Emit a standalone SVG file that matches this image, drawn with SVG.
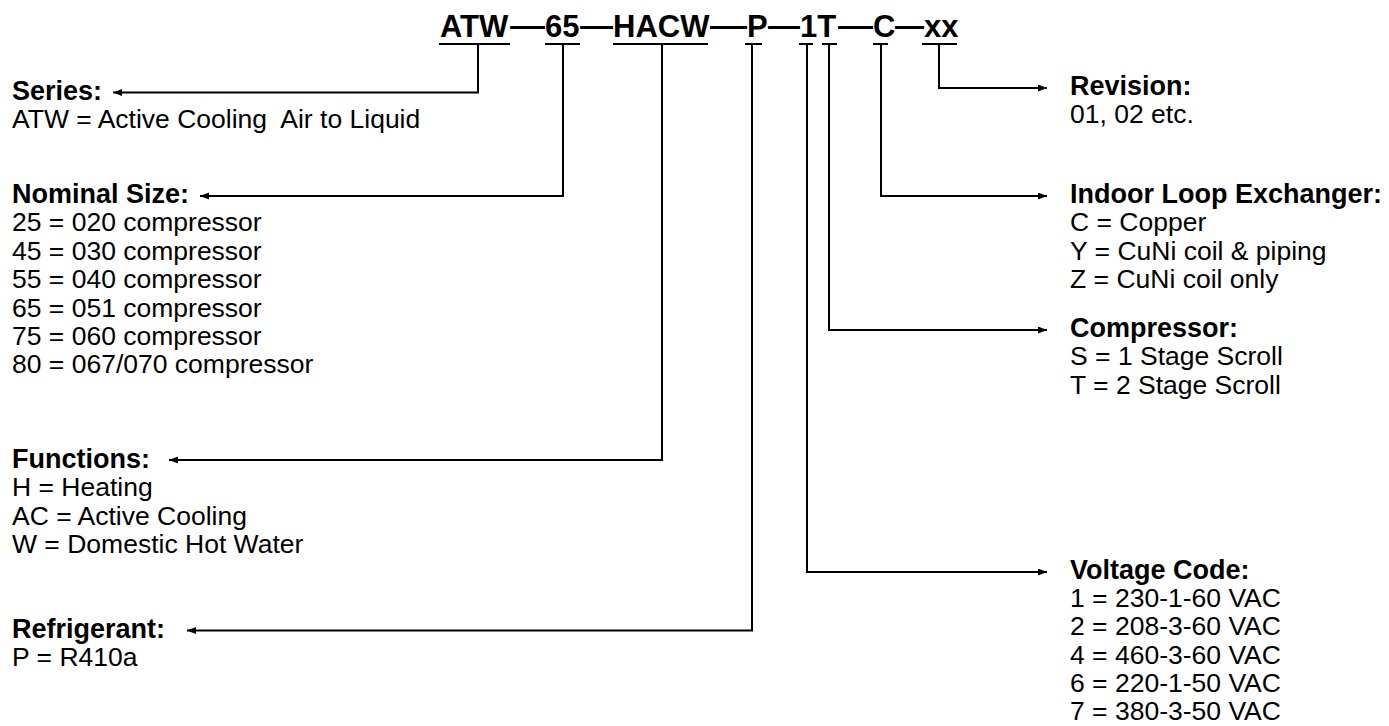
<svg xmlns="http://www.w3.org/2000/svg" width="1389" height="726" viewBox="0 0 1389 726">
<defs>
<style>
text{font-family:"Liberation Sans",Arial,sans-serif;fill:#000}
.t{font-size:31px;font-weight:bold}
.h{font-size:27px;font-weight:bold}
.b{font-size:26.5px}
.c{fill:none;stroke:#000;stroke-width:2}
.u{stroke:#000;stroke-width:2}
</style>
<marker id="ah" markerUnits="userSpaceOnUse" markerWidth="10" markerHeight="8" refX="9" refY="3.5" orient="auto">
<path d="M0,0 L9,3.5 L0,7 z" fill="#000"/>
</marker>
</defs>
<rect width="1389" height="726" fill="#fff"/>
<g id="title">
<text class="t" y="37"><tspan x="440">ATW</tspan><tspan x="545">65</tspan><tspan x="613">HACW</tspan><tspan x="747">P</tspan><tspan x="800">1T</tspan><tspan x="873">C</tspan><tspan x="924">xx</tspan></text>
<text class="t" y="35.5" x="510" textLength="35" lengthAdjust="spacingAndGlyphs">—</text>
<text class="t" y="35.5" x="580" textLength="33" lengthAdjust="spacingAndGlyphs">—</text>
<text class="t" y="35.5" x="710" textLength="37" lengthAdjust="spacingAndGlyphs">—</text>
<text class="t" y="35.5" x="768" textLength="32" lengthAdjust="spacingAndGlyphs">—</text>
<text class="t" y="35.5" x="838" textLength="35" lengthAdjust="spacingAndGlyphs">—</text>
<text class="t" y="35.5" x="895" textLength="29" lengthAdjust="spacingAndGlyphs">—</text>
<line class="u" x1="439" y1="44" x2="510" y2="44"/>
<line class="u" x1="545" y1="44" x2="580" y2="44"/>
<line class="u" x1="613" y1="44" x2="708" y2="44"/>
<line class="u" x1="745" y1="44" x2="762" y2="44"/>
<line class="u" x1="799" y1="44" x2="813" y2="44"/>
<line class="u" x1="822" y1="44" x2="837" y2="44"/>
<line class="u" x1="873" y1="44" x2="888" y2="44"/>
<line class="u" x1="922" y1="44" x2="957" y2="44"/>
</g>
<g id="connectors">
<polyline class="c" points="478,44 478,92.5 113,92.5" marker-end="url(#ah)"/>
<polyline class="c" points="563,44 563,196 200,196" marker-end="url(#ah)"/>
<polyline class="c" points="662,44 662,460 169,460" marker-end="url(#ah)"/>
<polyline class="c" points="752,44 752,630.5 187,630.5" marker-end="url(#ah)"/>
<polyline class="c" points="939,44 939,88 1047,88" marker-end="url(#ah)"/>
<polyline class="c" points="881,44 881,196 1047,196" marker-end="url(#ah)"/>
<polyline class="c" points="829,44 829,330 1047,330" marker-end="url(#ah)"/>
<polyline class="c" points="807,44 807,572 1047,572" marker-end="url(#ah)"/>
</g>
<g id="series">
<text class="h" x="12" y="99.5">Series:</text>
<text class="b" x="12" y="128" xml:space="preserve">ATW = Active Cooling  Air to Liquid</text>
</g>
<g id="nominal-size">
<text class="h" x="12" y="203">Nominal Size:</text>
<text class="b" x="12" y="231.4">25 = 020 compressor</text>
<text class="b" x="12" y="259.8">45 = 030 compressor</text>
<text class="b" x="12" y="288.2">55 = 040 compressor</text>
<text class="b" x="12" y="316.6">65 = 051 compressor</text>
<text class="b" x="12" y="345">75 = 060 compressor</text>
<text class="b" x="12" y="373.4">80 = 067/070 compressor</text>
</g>
<g id="functions">
<text class="h" x="12" y="468">Functions:</text>
<text class="b" x="12" y="496.4">H = Heating</text>
<text class="b" x="12" y="524.8">AC = Active Cooling</text>
<text class="b" x="12" y="553.2">W = Domestic Hot Water</text>
</g>
<g id="refrigerant">
<text class="h" x="12" y="637.7">Refrigerant:</text>
<text class="b" x="12" y="666">P = R410a</text>
</g>
<g id="revision">
<text class="h" x="1070" y="95">Revision:</text>
<text class="b" x="1070" y="123.4">01, 02 etc.</text>
</g>
<g id="indoor-loop-exchanger">
<text class="h" x="1070" y="203">Indoor Loop Exchanger:</text>
<text class="b" x="1070" y="231.4">C = Copper</text>
<text class="b" x="1070" y="259.8">Y = CuNi coil &amp; piping</text>
<text class="b" x="1070" y="288.2">Z = CuNi coil only</text>
</g>
<g id="compressor">
<text class="h" x="1070" y="337">Compressor:</text>
<text class="b" x="1070" y="365.4">S = 1 Stage Scroll</text>
<text class="b" x="1070" y="393.8">T = 2 Stage Scroll</text>
</g>
<g id="voltage-code">
<text class="h" x="1070" y="579">Voltage Code:</text>
<text class="b" x="1070" y="607.2">1 = 230-1-60 VAC</text>
<text class="b" x="1070" y="635.4">2 = 208-3-60 VAC</text>
<text class="b" x="1070" y="663.6">4 = 460-3-60 VAC</text>
<text class="b" x="1070" y="691.8">6 = 220-1-50 VAC</text>
<text class="b" x="1070" y="720">7 = 380-3-50 VAC</text>
</g>
</svg>
